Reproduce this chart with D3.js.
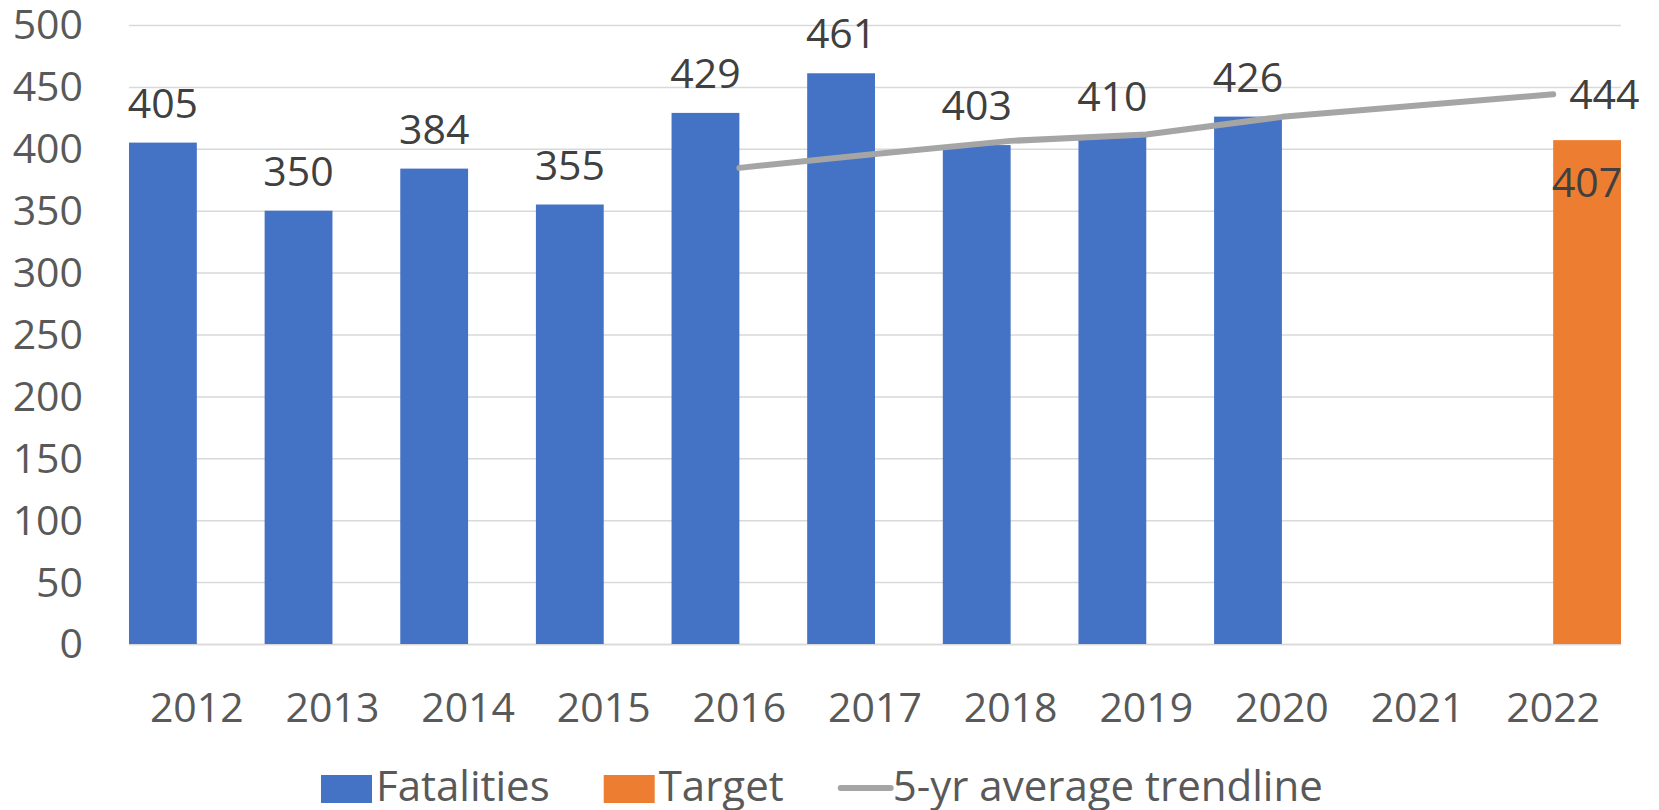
<!DOCTYPE html>
<html>
<head>
<meta charset="utf-8">
<script src="https://cdn.jsdelivr.net/npm/d3@7"></script>
<style>
  body { margin: 0; background: white; }
  text { font-family: 'Open Sans', sans-serif; }
</style>
</head>
<body>
<div id="chart"></div>
<script>
let years = ['2012', '2013', '2014', '2015', '2016', '2017', '2018', '2019', '2020', '2021', '2022'];
let fatalities = [405, 350, 384, 355, 429, 461, 403, 410, 426, null, null];
let target = [null, null, null, null, null, null, null, null, null, null, 407];
let trend = [null, null, null, null, 384.6, 395.8, 406.4, 411.6, 425.8, 435, 444];
let yTicks = [0, 50, 100, 150, 200, 250, 300, 350, 400, 450, 500];
let seriesNames = ['Fatalities', 'Target'];
let legendLabels = ['Fatalities', 'Target', '5-yr average trendline'];

let width = 1659;
let height = 810;
let plotLeft = 129;
let plotRight = 1621;
let plotTop = 25;
let plotBottom = 644;
let fontSize = 41;

let colors = { Fatalities: '#4472c4', Target: '#ed7d31', trend: '#a5a5a5' };

let svg = d3
    .select('#chart')
    .append('svg')
    .attr('width', width)
    .attr('height', height)
    .style('background', 'white');

let xScale = d3.scaleBand().domain(years).range([plotLeft, plotRight]).padding(0);
let xSeries = d3.scaleBand().domain(seriesNames).range([0, xScale.bandwidth()]).padding(0);
let yScale = d3.scaleLinear().domain([0, 500]).range([plotBottom, plotTop]);

// gridlines + y labels
let yAxis = d3.axisLeft(yScale)
    .tickValues(yTicks)
    .tickSize(-(plotRight - plotLeft))
    .tickPadding(plotLeft - 83);

let yG = svg.append('g')
    .attr('transform', `translate(${plotLeft},0)`)
    .call(yAxis);
yG.select('.domain').remove();
yG.selectAll('line').attr('stroke', '#d9d9d9').attr('stroke-width', 1.5);
yG.selectAll('text')
    .attr('font-size', fontSize)
    .attr('fill', '#595959')
    .attr('dy', '0.34em')
    .style('font-family', "'Open Sans', sans-serif");

// x axis
let xAxis = d3.axisBottom(xScale).tickSize(0).tickPadding(49);
let xG = svg.append('g')
    .attr('transform', `translate(0,${plotBottom})`)
    .call(xAxis);
xG.select('.domain').attr('stroke', '#d9d9d9').attr('stroke-width', 1.5);
xG.selectAll('text')
    .attr('font-size', fontSize)
    .attr('fill', '#595959')
    .style('font-family', "'Open Sans', sans-serif");

let rows = years.map((y, i) => ({ year: y, Fatalities: fatalities[i], Target: target[i], trend: trend[i] }));

// bars
seriesNames.forEach(name => {
    let withVal = rows.filter(d => d[name] != null);
    svg.append('g')
        .selectAll('rect')
        .data(withVal)
        .enter()
        .append('rect')
        .attr('x', d => xScale(d.year) + xSeries(name))
        .attr('y', d => yScale(d[name]))
        .attr('width', xSeries.bandwidth())
        .attr('height', d => yScale(0) - yScale(d[name]))
        .attr('fill', colors[name]);
});

// fatalities labels (outside end)
svg.append('g')
    .selectAll('text')
    .data(rows.filter(d => d.Fatalities != null))
    .enter()
    .append('text')
    .text(d => d.Fatalities)
    .attr('x', d => xScale(d.year) + xSeries('Fatalities') + xSeries.bandwidth() / 2)
    .attr('y', d => yScale(d.Fatalities) - 25)
    .attr('text-anchor', 'middle')
    .attr('font-size', fontSize)
    .attr('fill', '#404040');

// target label (inside end)
svg.append('g')
    .selectAll('text')
    .data(rows.filter(d => d.Target != null))
    .enter()
    .append('text')
    .text(d => d.Target)
    .attr('x', d => xScale(d.year) + xSeries('Target') + xSeries.bandwidth() / 2)
    .attr('y', d => yScale(d.Target) + 57)
    .attr('text-anchor', 'middle')
    .attr('font-size', fontSize)
    .attr('fill', '#404040');

// trendline
let trendRows = rows.filter(d => d.trend != null);
let line = d3.line()
    .x(d => xScale(d.year) + xScale.bandwidth() / 2)
    .y(d => yScale(d.trend));

svg.append('path')
    .datum(trendRows)
    .attr('d', line)
    .attr('fill', 'none')
    .attr('stroke', colors.trend)
    .attr('stroke-width', 6)
    .attr('stroke-linecap', 'round')
    .attr('stroke-linejoin', 'round');

let last = trendRows[trendRows.length - 1];
svg.append('text')
    .text(last.trend)
    .attr('x', xScale(last.year) + xScale.bandwidth() / 2 + 16)
    .attr('y', yScale(last.trend) + 15)
    .attr('font-size', fontSize)
    .attr('fill', '#404040');

// legend
let legend = svg.append('g').attr('transform', 'translate(321,0)');
let lx = 0;
legendLabels.forEach((name, i) => {
    if (i < 2) {
        legend.append('rect')
            .attr('x', lx)
            .attr('y', 775)
            .attr('width', 51)
            .attr('height', 28)
            .attr('fill', colors[name]);
    } else {
        legend.append('line')
            .attr('x1', lx + 3)
            .attr('x2', lx + 53)
            .attr('y1', 788)
            .attr('y2', 788)
            .attr('stroke', colors.trend)
            .attr('stroke-width', 6)
            .attr('stroke-linecap', 'round');
    }
    let t = legend.append('text')
        .text(name)
        .attr('x', lx + 55)
        .attr('y', 801)
        .attr('font-size', 42)
        .attr('fill', '#595959');
    lx += 55 + t.node().getComputedTextLength() + 54;
});
</script>
</body>
</html>
